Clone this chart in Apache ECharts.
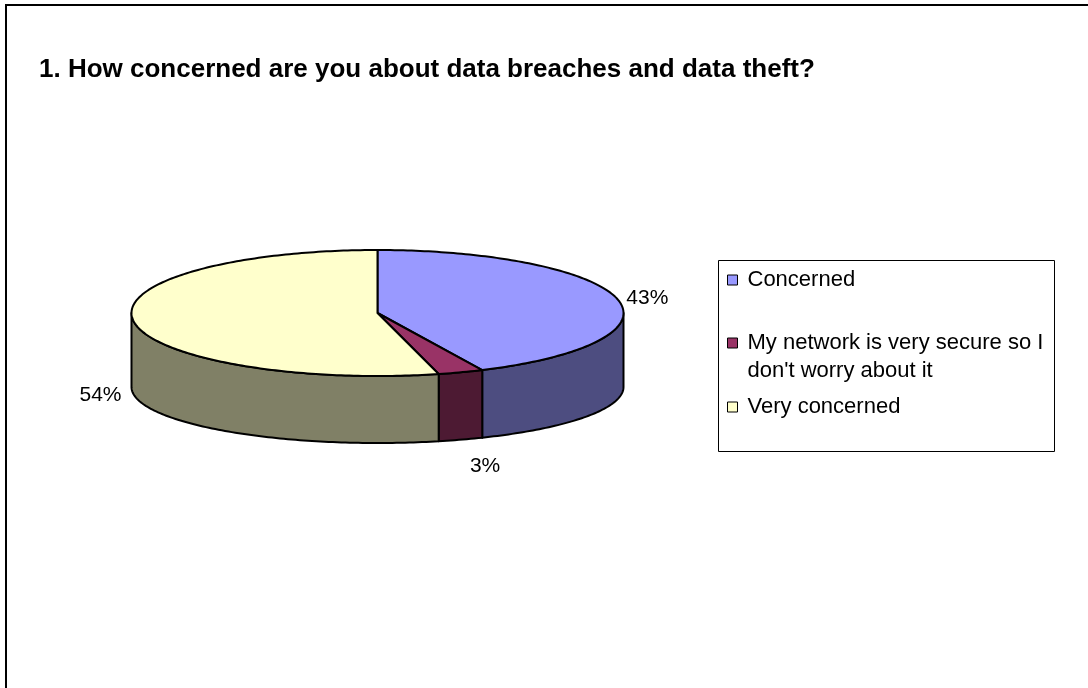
<!DOCTYPE html>
<html>
<head>
<meta charset="utf-8">
<title>Data breach concern</title>
<script src="https://cdn.jsdelivr.net/npm/echarts@6/dist/echarts.min.js"></script>
<style>
  html, body { margin: 0; padding: 0; background: #fff; }
  #chart { width: 1088px; height: 688px; }
</style>
</head>
<body>
<div id="chart"></div>
<script>
// answers, in the order Excel draws them (clockwise from 12 o'clock)
var categories = ['Concerned', 'My network is very secure so I don\'t worry about it', 'Very concerned']
var values = [43, 3, 54]
var topColors = ['#9999FF', '#993366', '#FFFFCC']
var sideColors = ['#4D4D80', '#4D1A33', '#808066']

var FONT = '"Liberation Sans", Arial, sans-serif'

// ellipse geometry of the tilted pie
var cx = 377.5, cy = 313, rx = 246, ry = 63
var depth = 74, ryBottom = 56

var total = values.reduce(function (a, b) { return a + b }, 0)

function topPt(t) {
  return [cx + rx * Math.sin(t), cy - ry * Math.cos(t)]
}
function bottomPt(t) {
  return [cx + rx * Math.sin(t), cy + depth - ryBottom * Math.cos(t)]
}
function arc(fn, a, b) {
  var pts = []
  var n = Math.max(2, Math.ceil(Math.abs(b - a) / (Math.PI / 180)))
  for (var i = 0; i <= n; i++) pts.push(fn(a + (b - a) * i / n))
  return pts
}

function renderSlice(params, api) {
  var idx = params.dataIndex
  var before = 0
  for (var i = 0; i < idx; i++) before += values[i]
  var v = api.value(0)
  var a = before / total * Math.PI * 2
  var b = (before + v) / total * Math.PI * 2
  var children = []
  var line = { stroke: '#000', lineWidth: 2, lineJoin: 'round' }

  // side wall, only the front half is visible
  var s = Math.max(a, Math.PI / 2), e = Math.min(b, Math.PI * 1.5)
  if (e > s) {
    var pts = arc(topPt, s, e).concat(arc(bottomPt, e, s))
    children.push({
      type: 'polygon', z2: 1,
      shape: { points: pts },
      style: Object.assign({ fill: sideColors[idx] }, line)
    })
  }

  // top face
  children.push({
    type: 'polygon', z2: 10,
    shape: { points: [[cx, cy]].concat(arc(topPt, a, b)) },
    style: Object.assign({ fill: topColors[idx] }, line)
  })

  // percentage label, just outside the rim
  var m = (a + b) / 2
  var sin = Math.sin(m), cos = Math.cos(m)
  var p = cos < 0 ? bottomPt(m) : topPt(m)
  children.push({
    type: 'text', z2: 20,
    style: {
      text: Math.round(v / total * 100) + '%',
      x: p[0] + sin * (sin > 0 ? 9 : 12) + (sin > 0 && cos < 0 ? 6 : 0),
      y: p[1] - cos * 24 + (sin >= 0 ? 4 : -2),
      align: sin >= 0 ? 'left' : 'right',
      verticalAlign: 'middle',
      font: '21px ' + FONT,
      fill: '#000'
    }
  })

  return { type: 'group', children: children }
}

function legendAt(name, top, textPad, formatter) {
  return {
    data: [name],
    left: 727,
    top: top,
    padding: 0,
    orient: 'vertical',
    icon: 'rect',
    itemWidth: 10,
    itemHeight: 10,
    selectedMode: false,
    formatter: formatter,
    itemStyle: { borderColor: '#000', borderWidth: 1 },
    textStyle: {
      fontFamily: FONT,
      fontSize: 22,
      lineHeight: 28,
      color: '#000',
      width: 302,
      overflow: 'break',
      padding: textPad
    }
  }
}

var chart = echarts.init(document.getElementById('chart'), null, { renderer: 'canvas' })

chart.setOption({
  animation: false,
  backgroundColor: '#fff',
  title: {
    text: '1. How concerned are you about data breaches and data theft?',
    left: 39,
    top: 57,
    padding: 0,
    textStyle: { fontFamily: FONT, fontSize: 26, fontWeight: 'bold', color: '#000' }
  },
  legend: [
    legendAt(categories[0], 263, [0, 0, 6, 5]),
    // blank first line keeps the box centred on the first text line, next to the icon
    legendAt(categories[1], 301, [0, 0, 0, 5], function (n) { return '\n' + n }),
    legendAt(categories[2], 390, [0, 0, 6, 5])
  ],
  graphic: [
    {
      type: 'rect', z: 0,
      shape: { x: 6, y: 5, width: 1100, height: 700 },
      style: { fill: 'none', stroke: '#000', lineWidth: 2 }
    },
    {
      type: 'rect', z: 0,
      shape: { x: 718.5, y: 260.5, width: 336, height: 191 },
      style: { fill: '#fff', stroke: '#000', lineWidth: 1 }
    }
  ],
  series: [
    {
      // only feeds the legend its names and colours
      type: 'pie',
      radius: [0, 0],
      center: [cx, cy],
      silent: true,
      label: { show: false },
      labelLine: { show: false },
      data: categories.map(function (c, i) {
        return { name: c, value: values[i], itemStyle: { color: topColors[i] } }
      })
    },
    {
      type: 'custom',
      coordinateSystem: 'none',
      silent: true,
      renderItem: renderSlice,
      data: values
    }
  ]
})
</script>
</body>
</html>
